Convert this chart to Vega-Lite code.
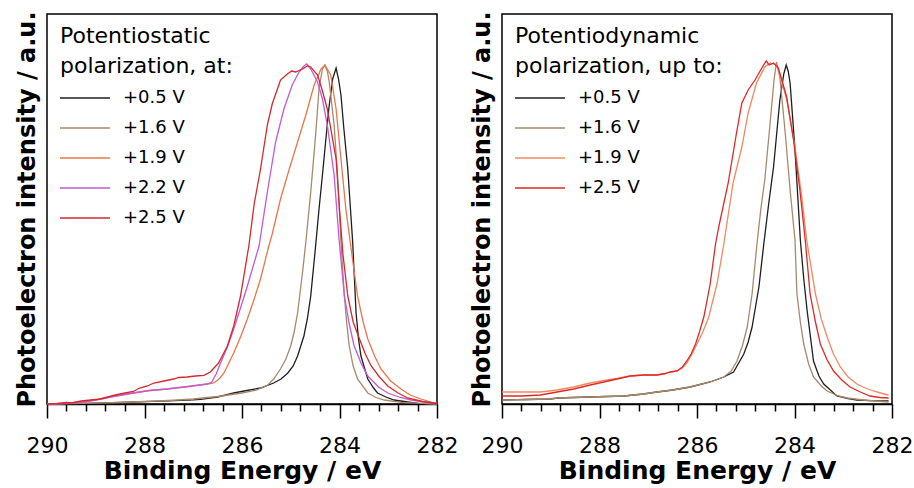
{
  "$schema": "https://vega.github.io/schema/vega-lite/v6.json",
  "background": "white",
  "padding": {"left": 14, "top": 10, "right": 5, "bottom": 0},
  "spacing": 65,
  "bounds": "flush",
  "resolve": {"scale": {"color": "independent"}, "legend": {"color": "independent"}},
  "config": {
    "font": "DejaVu Sans",
    "view": {"stroke": "black", "strokeWidth": 1.5},
    "axis": {
      "labelFont": "DejaVu Sans", "labelFontSize": 22, "labelColor": "black",
      "titleFont": "DejaVu Sans", "titleFontSize": 25, "titleFontWeight": "bold", "titleColor": "black",
      "grid": false, "domainColor": "black", "domainWidth": 1.5, "tickColor": "black", "tickWidth": 1.5
    },
    "legend": {
      "titleFont": "DejaVu Sans", "titleFontSize": 22, "titleFontWeight": "normal", "titleColor": "black",
      "titleLineHeight": 30, "titlePadding": 11, "titleLimit": 400,
      "labelFont": "DejaVu Sans", "labelFontSize": 18, "labelColor": "black", "labelLimit": 300,
      "rowPadding": 12, "padding": 0
    }
  },
  "datasets": {
    "left": [
      {"s":"+0.5 V","E":290,"I":0},{"s":"+0.5 V","E":289.5,"I":0.3},{"s":"+0.5 V","E":289,"I":0.8},{"s":"+0.5 V","E":288.5,"I":1.5},{"s":"+0.5 V","E":288,"I":2.3},{"s":"+0.5 V","E":287.5,"I":3.2},{"s":"+0.5 V","E":287,"I":4.2},{"s":"+0.5 V","E":286.85,"I":4.7},{"s":"+0.5 V","E":286.5,"I":7},{"s":"+0.5 V","E":286.17,"I":11},{"s":"+0.5 V","E":285.9,"I":13.5},{"s":"+0.5 V","E":285.62,"I":16},{"s":"+0.5 V","E":285.35,"I":21},{"s":"+0.5 V","E":285.2,"I":25},{"s":"+0.5 V","E":285.06,"I":31},{"s":"+0.5 V","E":284.95,"I":38},{"s":"+0.5 V","E":284.86,"I":48},{"s":"+0.5 V","E":284.73,"I":68},{"s":"+0.5 V","E":284.66,"I":85},{"s":"+0.5 V","E":284.59,"I":108},{"s":"+0.5 V","E":284.49,"I":158},{"s":"+0.5 V","E":284.42,"I":195},{"s":"+0.5 V","E":284.35,"I":229},{"s":"+0.5 V","E":284.22,"I":295},{"s":"+0.5 V","E":284.14,"I":325},{"s":"+0.5 V","E":284.07,"I":336},{"s":"+0.5 V","E":284.02,"I":325},{"s":"+0.5 V","E":283.97,"I":309},{"s":"+0.5 V","E":283.91,"I":275},{"s":"+0.5 V","E":283.83,"I":235},{"s":"+0.5 V","E":283.73,"I":162},{"s":"+0.5 V","E":283.66,"I":91},{"s":"+0.5 V","E":283.61,"I":65},{"s":"+0.5 V","E":283.56,"I":48},{"s":"+0.5 V","E":283.42,"I":25},{"s":"+0.5 V","E":283.3,"I":16},{"s":"+0.5 V","E":283.22,"I":11},{"s":"+0.5 V","E":283.05,"I":7},{"s":"+0.5 V","E":282.88,"I":4},{"s":"+0.5 V","E":282.6,"I":2},{"s":"+0.5 V","E":282.39,"I":0.7},{"s":"+0.5 V","E":282.06,"I":0},{"s":"+0.5 V","E":282,"I":0},
      {"s":"+1.6 V","E":290,"I":0},{"s":"+1.6 V","E":289.5,"I":0.3},{"s":"+1.6 V","E":289,"I":0.8},{"s":"+1.6 V","E":288.5,"I":1.5},{"s":"+1.6 V","E":288,"I":2.5},{"s":"+1.6 V","E":287.5,"I":3.5},{"s":"+1.6 V","E":287,"I":5},{"s":"+1.6 V","E":286.5,"I":7.5},{"s":"+1.6 V","E":286,"I":11},{"s":"+1.6 V","E":285.7,"I":14},{"s":"+1.6 V","E":285.47,"I":19},{"s":"+1.6 V","E":285.35,"I":25},{"s":"+1.6 V","E":285.21,"I":35},{"s":"+1.6 V","E":285.1,"I":45},{"s":"+1.6 V","E":285,"I":58},{"s":"+1.6 V","E":284.93,"I":72},{"s":"+1.6 V","E":284.86,"I":91},{"s":"+1.6 V","E":284.76,"I":131},{"s":"+1.6 V","E":284.69,"I":162},{"s":"+1.6 V","E":284.59,"I":212},{"s":"+1.6 V","E":284.49,"I":269},{"s":"+1.6 V","E":284.42,"I":315},{"s":"+1.6 V","E":284.35,"I":335},{"s":"+1.6 V","E":284.3,"I":339},{"s":"+1.6 V","E":284.25,"I":333},{"s":"+1.6 V","E":284.21,"I":322},{"s":"+1.6 V","E":284.11,"I":279},{"s":"+1.6 V","E":284.04,"I":229},{"s":"+1.6 V","E":283.97,"I":162},{"s":"+1.6 V","E":283.9,"I":108},{"s":"+1.6 V","E":283.85,"I":80},{"s":"+1.6 V","E":283.8,"I":58},{"s":"+1.6 V","E":283.72,"I":38},{"s":"+1.6 V","E":283.63,"I":25},{"s":"+1.6 V","E":283.42,"I":11},{"s":"+1.6 V","E":283.25,"I":6.5},{"s":"+1.6 V","E":283.08,"I":4},{"s":"+1.6 V","E":282.74,"I":1.7},{"s":"+1.6 V","E":282.4,"I":0.8},{"s":"+1.6 V","E":282.06,"I":0},{"s":"+1.6 V","E":282,"I":0},
      {"s":"+1.9 V","E":290,"I":0},{"s":"+1.9 V","E":289.7,"I":0.5},{"s":"+1.9 V","E":289.25,"I":2},{"s":"+1.9 V","E":288.95,"I":4.5},{"s":"+1.9 V","E":288.7,"I":7},{"s":"+1.9 V","E":288.23,"I":11},{"s":"+1.9 V","E":287.9,"I":13.5},{"s":"+1.9 V","E":287.54,"I":15},{"s":"+1.9 V","E":287.1,"I":17.5},{"s":"+1.9 V","E":286.71,"I":20},{"s":"+1.9 V","E":286.58,"I":21},{"s":"+1.9 V","E":286.47,"I":25},{"s":"+1.9 V","E":286.37,"I":31},{"s":"+1.9 V","E":286.17,"I":51},{"s":"+1.9 V","E":286.03,"I":67},{"s":"+1.9 V","E":285.89,"I":85},{"s":"+1.9 V","E":285.75,"I":105},{"s":"+1.9 V","E":285.62,"I":125},{"s":"+1.9 V","E":285.45,"I":158},{"s":"+1.9 V","E":285.38,"I":170},{"s":"+1.9 V","E":285.21,"I":205},{"s":"+1.9 V","E":285.03,"I":235},{"s":"+1.9 V","E":284.86,"I":262},{"s":"+1.9 V","E":284.69,"I":289},{"s":"+1.9 V","E":284.52,"I":319},{"s":"+1.9 V","E":284.38,"I":335},{"s":"+1.9 V","E":284.3,"I":339},{"s":"+1.9 V","E":284.18,"I":329},{"s":"+1.9 V","E":284.07,"I":295},{"s":"+1.9 V","E":283.97,"I":245},{"s":"+1.9 V","E":283.87,"I":195},{"s":"+1.9 V","E":283.77,"I":158},{"s":"+1.9 V","E":283.63,"I":108},{"s":"+1.9 V","E":283.52,"I":83},{"s":"+1.9 V","E":283.42,"I":65},{"s":"+1.9 V","E":283.28,"I":48},{"s":"+1.9 V","E":283.15,"I":35},{"s":"+1.9 V","E":282.95,"I":23},{"s":"+1.9 V","E":282.74,"I":15},{"s":"+1.9 V","E":282.55,"I":9},{"s":"+1.9 V","E":282.33,"I":5},{"s":"+1.9 V","E":282.06,"I":1},{"s":"+1.9 V","E":282,"I":0.5},
      {"s":"+2.2 V","E":290,"I":0},{"s":"+2.2 V","E":289.7,"I":0.5},{"s":"+2.2 V","E":289.25,"I":2},{"s":"+2.2 V","E":288.95,"I":4.5},{"s":"+2.2 V","E":288.7,"I":7},{"s":"+2.2 V","E":288.23,"I":11},{"s":"+2.2 V","E":287.9,"I":13.5},{"s":"+2.2 V","E":287.54,"I":15},{"s":"+2.2 V","E":287.1,"I":17.5},{"s":"+2.2 V","E":286.71,"I":20},{"s":"+2.2 V","E":286.62,"I":22},{"s":"+2.2 V","E":286.53,"I":30},{"s":"+2.2 V","E":286.44,"I":41},{"s":"+2.2 V","E":286.3,"I":57},{"s":"+2.2 V","E":286.17,"I":75},{"s":"+2.2 V","E":286.03,"I":96},{"s":"+2.2 V","E":285.89,"I":118},{"s":"+2.2 V","E":285.77,"I":138},{"s":"+2.2 V","E":285.65,"I":158},{"s":"+2.2 V","E":285.48,"I":212},{"s":"+2.2 V","E":285.31,"I":262},{"s":"+2.2 V","E":285.14,"I":295},{"s":"+2.2 V","E":284.97,"I":319},{"s":"+2.2 V","E":284.83,"I":332},{"s":"+2.2 V","E":284.73,"I":338},{"s":"+2.2 V","E":284.67,"I":340},{"s":"+2.2 V","E":284.59,"I":335},{"s":"+2.2 V","E":284.45,"I":322},{"s":"+2.2 V","E":284.35,"I":305},{"s":"+2.2 V","E":284.25,"I":279},{"s":"+2.2 V","E":284.11,"I":229},{"s":"+2.2 V","E":284.01,"I":165},{"s":"+2.2 V","E":283.9,"I":108},{"s":"+2.2 V","E":283.8,"I":80},{"s":"+2.2 V","E":283.7,"I":58},{"s":"+2.2 V","E":283.55,"I":40},{"s":"+2.2 V","E":283.42,"I":28},{"s":"+2.2 V","E":283.2,"I":17},{"s":"+2.2 V","E":283.01,"I":11},{"s":"+2.2 V","E":282.75,"I":6.5},{"s":"+2.2 V","E":282.53,"I":4},{"s":"+2.2 V","E":282.25,"I":2},{"s":"+2.2 V","E":282.06,"I":1},{"s":"+2.2 V","E":282,"I":0.5},
      {"s":"+2.5 V","E":290,"I":0},{"s":"+2.5 V","E":289.8,"I":0.5},{"s":"+2.5 V","E":289.59,"I":1.5},{"s":"+2.5 V","E":289.5,"I":1},{"s":"+2.5 V","E":289.3,"I":3},{"s":"+2.5 V","E":289.1,"I":4},{"s":"+2.5 V","E":288.91,"I":5},{"s":"+2.5 V","E":288.6,"I":9},{"s":"+2.5 V","E":288.4,"I":11},{"s":"+2.5 V","E":288.23,"I":12.5},{"s":"+2.5 V","E":288.1,"I":16},{"s":"+2.5 V","E":287.94,"I":18},{"s":"+2.5 V","E":287.81,"I":21},{"s":"+2.5 V","E":287.6,"I":23},{"s":"+2.5 V","E":287.4,"I":25},{"s":"+2.5 V","E":287.3,"I":26.5},{"s":"+2.5 V","E":287.13,"I":27},{"s":"+2.5 V","E":286.95,"I":28},{"s":"+2.5 V","E":286.78,"I":28.7},{"s":"+2.5 V","E":286.65,"I":32},{"s":"+2.5 V","E":286.48,"I":41},{"s":"+2.5 V","E":286.3,"I":58},{"s":"+2.5 V","E":286.17,"I":78},{"s":"+2.5 V","E":286.03,"I":108},{"s":"+2.5 V","E":285.86,"I":158},{"s":"+2.5 V","E":285.75,"I":200},{"s":"+2.5 V","E":285.62,"I":235},{"s":"+2.5 V","E":285.48,"I":279},{"s":"+2.5 V","E":285.38,"I":300},{"s":"+2.5 V","E":285.21,"I":324},{"s":"+2.5 V","E":285.07,"I":330},{"s":"+2.5 V","E":284.98,"I":333},{"s":"+2.5 V","E":284.9,"I":332},{"s":"+2.5 V","E":284.76,"I":335},{"s":"+2.5 V","E":284.66,"I":338},{"s":"+2.5 V","E":284.59,"I":337},{"s":"+2.5 V","E":284.45,"I":329},{"s":"+2.5 V","E":284.35,"I":313},{"s":"+2.5 V","E":284.25,"I":295},{"s":"+2.5 V","E":284.07,"I":245},{"s":"+2.5 V","E":284,"I":195},{"s":"+2.5 V","E":283.93,"I":150},{"s":"+2.5 V","E":283.83,"I":108},{"s":"+2.5 V","E":283.72,"I":82},{"s":"+2.5 V","E":283.59,"I":65},{"s":"+2.5 V","E":283.47,"I":50},{"s":"+2.5 V","E":283.35,"I":38},{"s":"+2.5 V","E":283.18,"I":27},{"s":"+2.5 V","E":283.01,"I":18},{"s":"+2.5 V","E":282.8,"I":11},{"s":"+2.5 V","E":282.6,"I":6},{"s":"+2.5 V","E":282.3,"I":2.5},{"s":"+2.5 V","E":282.06,"I":1},{"s":"+2.5 V","E":282,"I":0.5}
    ],
    "right": [
      {"s":"+0.5 V","E":290,"I":4},{"s":"+0.5 V","E":289.5,"I":4.5},{"s":"+0.5 V","E":289,"I":5},{"s":"+0.5 V","E":288.87,"I":6},{"s":"+0.5 V","E":288.2,"I":7},{"s":"+0.5 V","E":287.5,"I":8},{"s":"+0.5 V","E":287.1,"I":10},{"s":"+0.5 V","E":286.82,"I":12},{"s":"+0.5 V","E":286.5,"I":14},{"s":"+0.5 V","E":286.14,"I":17},{"s":"+0.5 V","E":285.73,"I":22},{"s":"+0.5 V","E":285.45,"I":27},{"s":"+0.5 V","E":285.25,"I":32},{"s":"+0.5 V","E":285.04,"I":50},{"s":"+0.5 V","E":284.95,"I":62},{"s":"+0.5 V","E":284.87,"I":77},{"s":"+0.5 V","E":284.73,"I":117},{"s":"+0.5 V","E":284.63,"I":160},{"s":"+0.5 V","E":284.53,"I":200},{"s":"+0.5 V","E":284.43,"I":237},{"s":"+0.5 V","E":284.3,"I":304},{"s":"+0.5 V","E":284.22,"I":330},{"s":"+0.5 V","E":284.17,"I":339},{"s":"+0.5 V","E":284.13,"I":333},{"s":"+0.5 V","E":284.09,"I":321},{"s":"+0.5 V","E":283.99,"I":254},{"s":"+0.5 V","E":283.93,"I":205},{"s":"+0.5 V","E":283.88,"I":164},{"s":"+0.5 V","E":283.81,"I":125},{"s":"+0.5 V","E":283.74,"I":93},{"s":"+0.5 V","E":283.61,"I":43},{"s":"+0.5 V","E":283.5,"I":28},{"s":"+0.5 V","E":283.4,"I":20},{"s":"+0.5 V","E":283.13,"I":8},{"s":"+0.5 V","E":282.9,"I":5.5},{"s":"+0.5 V","E":282.72,"I":4},{"s":"+0.5 V","E":282.4,"I":3.3},{"s":"+0.5 V","E":282.07,"I":3},
      {"s":"+1.6 V","E":290,"I":4},{"s":"+1.6 V","E":289.5,"I":4.5},{"s":"+1.6 V","E":289,"I":5},{"s":"+1.6 V","E":288.87,"I":6},{"s":"+1.6 V","E":288.2,"I":7},{"s":"+1.6 V","E":287.5,"I":8},{"s":"+1.6 V","E":287.1,"I":10},{"s":"+1.6 V","E":286.82,"I":12},{"s":"+1.6 V","E":286.5,"I":14},{"s":"+1.6 V","E":286.14,"I":17},{"s":"+1.6 V","E":285.73,"I":22},{"s":"+1.6 V","E":285.45,"I":27},{"s":"+1.6 V","E":285.3,"I":33},{"s":"+1.6 V","E":285.18,"I":43},{"s":"+1.6 V","E":285.07,"I":58},{"s":"+1.6 V","E":284.97,"I":77},{"s":"+1.6 V","E":284.87,"I":110},{"s":"+1.6 V","E":284.77,"I":160},{"s":"+1.6 V","E":284.69,"I":195},{"s":"+1.6 V","E":284.61,"I":224},{"s":"+1.6 V","E":284.5,"I":281},{"s":"+1.6 V","E":284.42,"I":324},{"s":"+1.6 V","E":284.37,"I":342},{"s":"+1.6 V","E":284.3,"I":327},{"s":"+1.6 V","E":284.19,"I":271},{"s":"+1.6 V","E":284.09,"I":214},{"s":"+1.6 V","E":283.99,"I":164},{"s":"+1.6 V","E":283.95,"I":110},{"s":"+1.6 V","E":283.88,"I":82},{"s":"+1.6 V","E":283.81,"I":60},{"s":"+1.6 V","E":283.71,"I":40},{"s":"+1.6 V","E":283.61,"I":27},{"s":"+1.6 V","E":283.45,"I":18},{"s":"+1.6 V","E":283.33,"I":13},{"s":"+1.6 V","E":283.1,"I":8},{"s":"+1.6 V","E":282.92,"I":6},{"s":"+1.6 V","E":282.5,"I":3.5},{"s":"+1.6 V","E":282.07,"I":2},
      {"s":"+1.9 V","E":290,"I":12},{"s":"+1.9 V","E":289.6,"I":12},{"s":"+1.9 V","E":289.21,"I":12},{"s":"+1.9 V","E":288.87,"I":14},{"s":"+1.9 V","E":288.53,"I":17},{"s":"+1.9 V","E":288.19,"I":21},{"s":"+1.9 V","E":287.91,"I":23.5},{"s":"+1.9 V","E":287.64,"I":25.5},{"s":"+1.9 V","E":287.37,"I":28},{"s":"+1.9 V","E":287.09,"I":29},{"s":"+1.9 V","E":286.82,"I":29},{"s":"+1.9 V","E":286.65,"I":30.5},{"s":"+1.9 V","E":286.55,"I":32},{"s":"+1.9 V","E":286.41,"I":33},{"s":"+1.9 V","E":286.3,"I":36},{"s":"+1.9 V","E":286.21,"I":41},{"s":"+1.9 V","E":286.1,"I":50},{"s":"+1.9 V","E":286,"I":60},{"s":"+1.9 V","E":285.88,"I":72},{"s":"+1.9 V","E":285.76,"I":87},{"s":"+1.9 V","E":285.59,"I":120},{"s":"+1.9 V","E":285.45,"I":160},{"s":"+1.9 V","E":285.26,"I":221},{"s":"+1.9 V","E":285.08,"I":257},{"s":"+1.9 V","E":284.95,"I":291},{"s":"+1.9 V","E":284.78,"I":321},{"s":"+1.9 V","E":284.61,"I":337},{"s":"+1.9 V","E":284.5,"I":341},{"s":"+1.9 V","E":284.37,"I":339},{"s":"+1.9 V","E":284.27,"I":325},{"s":"+1.9 V","E":284.16,"I":304},{"s":"+1.9 V","E":283.99,"I":257},{"s":"+1.9 V","E":283.85,"I":207},{"s":"+1.9 V","E":283.75,"I":164},{"s":"+1.9 V","E":283.57,"I":110},{"s":"+1.9 V","E":283.45,"I":85},{"s":"+1.9 V","E":283.33,"I":67},{"s":"+1.9 V","E":283.2,"I":50},{"s":"+1.9 V","E":283.06,"I":37},{"s":"+1.9 V","E":282.9,"I":27},{"s":"+1.9 V","E":282.72,"I":20},{"s":"+1.9 V","E":282.55,"I":16},{"s":"+1.9 V","E":282.38,"I":13},{"s":"+1.9 V","E":282.2,"I":10.5},{"s":"+1.9 V","E":282.07,"I":9},
      {"s":"+2.5 V","E":290,"I":8},{"s":"+2.5 V","E":289.6,"I":8},{"s":"+2.5 V","E":289.21,"I":9},{"s":"+2.5 V","E":288.87,"I":12},{"s":"+2.5 V","E":288.53,"I":15},{"s":"+2.5 V","E":288.19,"I":19},{"s":"+2.5 V","E":287.91,"I":22},{"s":"+2.5 V","E":287.64,"I":25},{"s":"+2.5 V","E":287.37,"I":28},{"s":"+2.5 V","E":287.09,"I":29},{"s":"+2.5 V","E":286.82,"I":29},{"s":"+2.5 V","E":286.65,"I":30.5},{"s":"+2.5 V","E":286.55,"I":32},{"s":"+2.5 V","E":286.41,"I":33},{"s":"+2.5 V","E":286.3,"I":37},{"s":"+2.5 V","E":286.21,"I":43},{"s":"+2.5 V","E":286.12,"I":50},{"s":"+2.5 V","E":286.03,"I":60},{"s":"+2.5 V","E":285.95,"I":72},{"s":"+2.5 V","E":285.86,"I":87},{"s":"+2.5 V","E":285.73,"I":120},{"s":"+2.5 V","E":285.62,"I":160},{"s":"+2.5 V","E":285.55,"I":178},{"s":"+2.5 V","E":285.36,"I":221},{"s":"+2.5 V","E":285.19,"I":271},{"s":"+2.5 V","E":285.08,"I":301},{"s":"+2.5 V","E":284.95,"I":314},{"s":"+2.5 V","E":284.81,"I":324},{"s":"+2.5 V","E":284.67,"I":336},{"s":"+2.5 V","E":284.58,"I":343},{"s":"+2.5 V","E":284.52,"I":339},{"s":"+2.5 V","E":284.43,"I":341},{"s":"+2.5 V","E":284.33,"I":336},{"s":"+2.5 V","E":284.16,"I":307},{"s":"+2.5 V","E":284.02,"I":264},{"s":"+2.5 V","E":283.89,"I":214},{"s":"+2.5 V","E":283.78,"I":164},{"s":"+2.5 V","E":283.68,"I":110},{"s":"+2.5 V","E":283.57,"I":82},{"s":"+2.5 V","E":283.47,"I":60},{"s":"+2.5 V","E":283.33,"I":44},{"s":"+2.5 V","E":283.2,"I":33},{"s":"+2.5 V","E":283.03,"I":24},{"s":"+2.5 V","E":282.86,"I":17},{"s":"+2.5 V","E":282.65,"I":12},{"s":"+2.5 V","E":282.45,"I":8},{"s":"+2.5 V","E":282.25,"I":6.5},{"s":"+2.5 V","E":282.07,"I":6}
    ]
  },
  "hconcat": [
    {
      "width": 390, "height": 390,
      "data": {"name": "left"},
      "mark": {"type": "line", "strokeWidth": 1.3},
      "encoding": {
        "x": {"field": "E", "type": "quantitative",
          "scale": {"domain": [282, 290], "reverse": true, "nice": false, "zero": false},
          "axis": {"title": "Binding Energy / eV", "values": [282, 282.4, 282.8, 283.2, 283.6, 284, 284.4, 284.8, 285.2, 285.6, 286, 286.4, 286.8, 287.2, 287.6, 288, 288.4, 288.8, 289.2, 289.6, 290],
            "labelExpr": "abs(datum.value/2 - round(datum.value/2)) < 0.01 ? format(datum.value, 'd') : ''",
            "labelOverlap": false, "labelFlush": false, "labelPadding": 17, "titlePadding": 2,
            "tickSize": {"condition": {"test": "abs(datum.value/2 - round(datum.value/2)) < 0.01", "value": 14}, "value": 7}}},
        "y": {"field": "I", "type": "quantitative",
          "scale": {"domain": [0, 390], "nice": false},
          "axis": {"title": "Photoelectron intensity / a.u.", "titleFontSize": 24, "ticks": false, "labels": false, "domain": false, "titlePadding": 8}},
        "color": {"field": "s", "type": "nominal",
          "scale": {"domain": ["+0.5 V", "+1.6 V", "+1.9 V", "+2.2 V", "+2.5 V"], "range": ["#1e1e1e", "#a8896a", "#e8764c", "#c25ad9", "#d4282c"]},
          "legend": {"title": ["Potentiostatic", "polarization, at:"], "orient": "none", "legendX": 13, "legendY": 12,
            "symbolType": "M-5,0H5", "symbolSize": 100, "symbolStrokeWidth": 1.3, "symbolOffset": 16, "labelOffset": 29}}
      }
    },
    {
      "width": 390, "height": 390,
      "data": {"name": "right"},
      "mark": {"type": "line", "strokeWidth": 1.3},
      "encoding": {
        "x": {"field": "E", "type": "quantitative",
          "scale": {"domain": [282, 290], "reverse": true, "nice": false, "zero": false},
          "axis": {"title": "Binding Energy / eV", "values": [282, 282.4, 282.8, 283.2, 283.6, 284, 284.4, 284.8, 285.2, 285.6, 286, 286.4, 286.8, 287.2, 287.6, 288, 288.4, 288.8, 289.2, 289.6, 290],
            "labelExpr": "abs(datum.value/2 - round(datum.value/2)) < 0.01 ? format(datum.value, 'd') : ''",
            "labelOverlap": false, "labelFlush": false, "labelPadding": 17, "titlePadding": 2,
            "tickSize": {"condition": {"test": "abs(datum.value/2 - round(datum.value/2)) < 0.01", "value": 14}, "value": 7}}},
        "y": {"field": "I", "type": "quantitative",
          "scale": {"domain": [0, 390], "nice": false},
          "axis": {"title": "Photoelectron intensity / a.u.", "titleFontSize": 24, "ticks": false, "labels": false, "domain": false, "titlePadding": 8}},
        "color": {"field": "s", "type": "nominal",
          "scale": {"domain": ["+0.5 V", "+1.6 V", "+1.9 V", "+2.5 V"], "range": ["#1e1e1e", "#a8896a", "#ee8a62", "#de2a26"]},
          "legend": {"title": ["Potentiodynamic", "polarization, up to:"], "orient": "none", "legendX": 13, "legendY": 12,
            "symbolType": "M-5,0H5", "symbolSize": 100, "symbolStrokeWidth": 1.3, "symbolOffset": 16, "labelOffset": 29}}
      }
    }
  ]
}
